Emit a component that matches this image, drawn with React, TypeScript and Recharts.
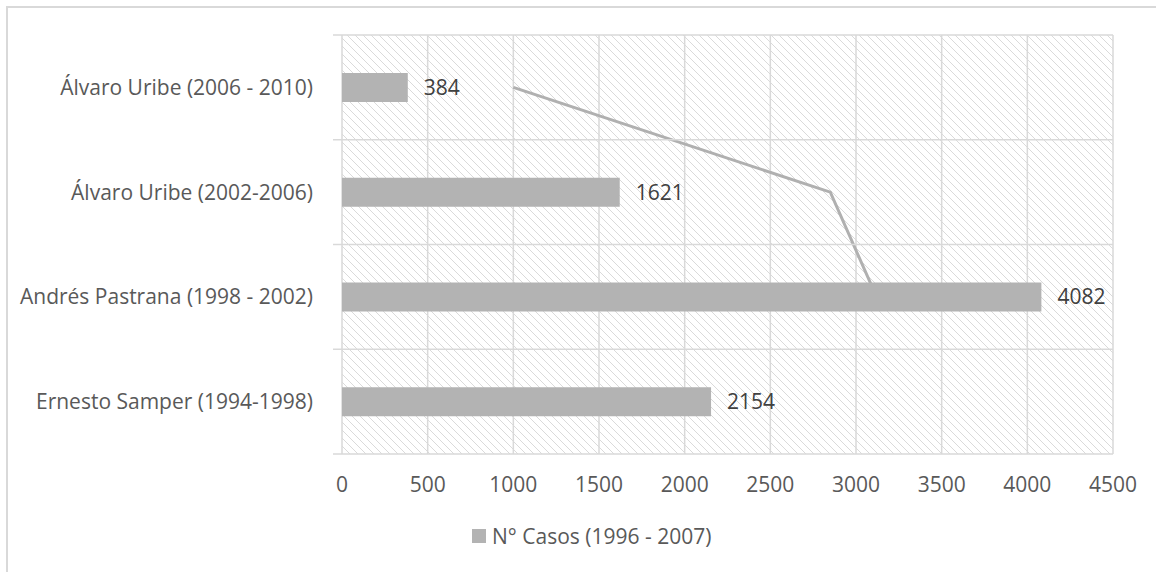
import { ComposedChart, Bar, Line, XAxis, YAxis, CartesianGrid, Legend, LabelList, ReferenceLine } from 'recharts';

const categorias = [
  'Álvaro Uribe (2006 - 2010)',
  'Álvaro Uribe (2002-2006)',
  'Andrés Pastrana (1998 - 2002)',
  'Ernesto Samper (1994-1998)',
];
const casos = [384, 1621, 4082, 2154];
const linea = [1000, 2850, 3120, null];
const ticksX = [0, 500, 1000, 1500, 2000, 2500, 3000, 3500, 4000, 4500];

const FUENTE = '"Open Sans", sans-serif';
const GRIS_TEXTO = '#595959';
const GRIS_REJILLA = '#d9d9d9';
const GRIS_BARRA = '#b3b3b3';
const MARGEN_TICK = 29;

const data = categorias.map((nombre, i) => ({ nombre, casos: casos[i], linea: linea[i] }));

const renderLeyenda = (props: any) => {
  const items = (props.payload || []).filter((p: any) => p.type !== 'none');
  return (
    <div style={{ display: 'flex', alignItems: 'center', fontFamily: FUENTE, fontSize: 21, color: GRIS_TEXTO }}>
      {items.map((item: any) => (
        <div key={item.value} style={{ display: 'flex', alignItems: 'center' }}>
          <span style={{ display: 'inline-block', width: 14, height: 14, background: item.color, marginRight: 6 }} />
          <span>{item.value}</span>
        </div>
      ))}
    </div>
  );
};

// etiqueta de categoría + pequeña marca en el borde de cada banda
const TickCategoria = (props: any) => {
  const { x, y, payload, index } = props;
  const ejeX = x + MARGEN_TICK;
  const medio = payload.offset || 0;
  const ultimo = index === categorias.length - 1;
  return (
    <g>
      <line x1={ejeX - 9} x2={ejeX} y1={y - medio} y2={y - medio} stroke={GRIS_REJILLA} strokeWidth={1.5} />
      {ultimo && (
        <line x1={ejeX - 9} x2={ejeX} y1={y + medio} y2={y + medio} stroke={GRIS_REJILLA} strokeWidth={1.5} />
      )}
      <text x={x} y={y} dy="0.355em" textAnchor="end" fill={GRIS_TEXTO} fontSize={21} fontFamily={FUENTE}>
        {payload.value}
      </text>
    </g>
  );
};

export default function App() {
  return (
    <div style={{ position: 'absolute', left: 0, top: 0, width: 1156, height: 572, background: '#fff', overflow: 'hidden' }}>
      {/* marco del gráfico */}
      <div
        style={{
          position: 'absolute',
          left: 6,
          top: 6,
          width: 1200,
          height: 600,
          borderLeft: `2px solid ${GRIS_REJILLA}`,
          borderTop: `2px solid ${GRIS_REJILLA}`,
        }}
      />
      <ComposedChart
        width={1156}
        height={572}
        data={data}
        layout="vertical"
        margin={{ top: 35, right: 43, bottom: 50, left: 0 }}
        style={{ position: 'absolute', left: 0, top: 0 }}
      >
        <defs>
          <pattern id="rayado" width="8" height="8" patternUnits="userSpaceOnUse">
            <path d="M0,0 L8,8 M-2,6 L2,10 M6,-2 L10,2" stroke="#dadada" strokeWidth={1} />
          </pattern>
        </defs>
        <CartesianGrid horizontal={false} fill="url(#rayado)" stroke={GRIS_REJILLA} strokeWidth={1.5} />
        {categorias.map((c) => (
          <ReferenceLine key={c} y={c} position="start" stroke={GRIS_REJILLA} strokeWidth={1.5} />
        ))}
        <ReferenceLine y={categorias[categorias.length - 1]} position="end" stroke={GRIS_REJILLA} strokeWidth={1.5} />
        <XAxis
          type="number"
          domain={[0, 4500]}
          ticks={ticksX}
          axisLine={false}
          tickLine={false}
          tickSize={0}
          tickMargin={23}
          height={40}
          tick={{ fill: GRIS_TEXTO, fontSize: 21, fontFamily: FUENTE }}
        />
        <YAxis
          type="category"
          dataKey="nombre"
          width={342}
          axisLine={false}
          tickLine={false}
          tickSize={0}
          tickMargin={MARGEN_TICK}
          tick={<TickCategoria />}
        />
        <Line
          dataKey="linea"
          stroke="#b0b0b0"
          strokeWidth={3}
          dot={false}
          legendType="none"
          isAnimationActive={false}
          zIndex={250}
        />
        <Bar dataKey="casos" name="N° Casos (1996 - 2007)" fill={GRIS_BARRA} barSize={29} isAnimationActive={false}>
          <LabelList dataKey="casos" position="right" offset={16} fill="#404040" fontSize={21} fontFamily={FUENTE} />
        </Bar>
        <Legend
          verticalAlign="bottom"
          content={renderLeyenda}
          wrapperStyle={{ left: 472, top: 522, bottom: 'auto', width: 'auto' }}
        />
      </ComposedChart>
    </div>
  );
}
